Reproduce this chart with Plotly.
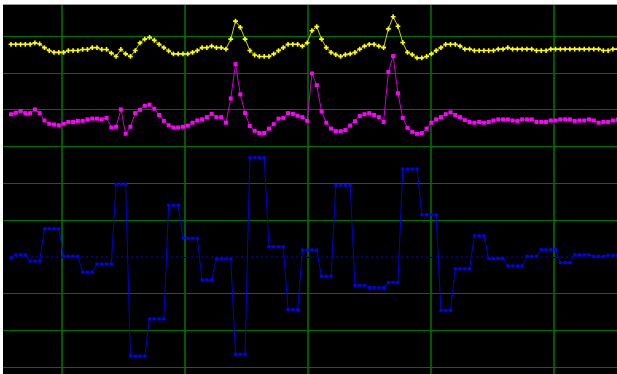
import plotly.graph_objects as go

# ---- data (sample index and signal levels) ----
n_samples = 128
sample_index = list(range(n_samples))

yellow_values = (
    [57.8] * 5 + [58.2, 57.9, 56.9, 56.1] + [55.6] * 3 + [56.1] * 3 + [56.4] * 2 + [56.9] * 2 + [56.4] * 2
    + [55.4, 54.5, 56.4, 55.2, 54.5, 56.1, 58.2, 59.2, 59.7, 58.9, 57.8, 56.9, 56.0]
    + [55.2] * 4 + [55.6, 56.1] + [56.9] * 2 + [57.3] + [56.9] * 2
    + [56.5, 59.2, 64.1, 62.4, 59.2, 56.1, 54.9] + [54.5] * 3 + [55.2, 56.1, 56.9] + [57.8] * 3
    + [57.3, 58.2, 61.5, 62.6, 59.2, 56.9, 55.6, 55.0, 54.5, 55.0, 55.2, 55.6, 56.5, 57.3]
    + [57.8] * 2 + [57.3, 56.9, 62.0, 65.3, 62.7, 58.3, 55.6, 55.0] + [54.1] * 2
    + [54.5, 55.2, 56.1, 56.9] + [57.8] * 3 + [57.3] + [56.5] * 2 + [56.1] * 5 + [56.5] * 2 + [56.9]
    + [56.5] * 5 + [56.1] * 3 + [56.5] * 11 + [56.1] * 2 + [56.5] * 2
)

magenta_values = [
    38.8, 39.2, 39.7, 39.1, 39.1, 40.1, 39.1, 37.1, 36.2, 36.0,
    35.8, 36.2, 36.7, 36.7, 37.0, 37.0, 37.4, 37.6, 37.6, 37.4,
    37.8, 35.2, 35.4, 40.1, 33.5, 35.4, 39.1, 40.0, 41.1, 41.4,
    40.3, 38.6, 37.0, 35.8, 35.2, 35.2, 35.4, 35.7, 36.5, 37.1,
    37.4, 38.0, 38.9, 38.0, 38.0, 36.5, 43.1, 52.4, 44.2, 39.1,
    35.6, 34.3, 33.7, 33.7, 34.9, 36.1, 37.6, 37.8, 39.1, 38.9,
    38.4, 38.0, 37.0, 49.9, 46.7, 39.6, 36.5, 34.9, 34.2, 34.2,
    34.5, 35.7, 36.9, 38.3, 38.8, 39.1, 38.6, 38.0, 36.7, 50.3,
    54.6, 44.5, 37.8, 35.1, 34.0, 33.5, 33.7, 34.9, 36.5, 37.4,
    38.0, 38.8, 39.3, 38.6, 38.0, 37.2, 36.7, 36.5, 36.7, 36.5,
    36.7, 37.1, 37.4, 37.4, 37.4, 37.1, 37.0, 37.4, 37.4, 37.4,
    36.7, 36.7, 36.7, 37.1, 37.1, 37.4, 37.4, 37.4, 37.0, 37.1,
    37.1, 37.4, 37.1, 36.5, 36.7, 36.7, 37.1, 37.4,
]

blue_values = (
    [-0.2] + [0.6] * 3 + [-1.1] * 3 + [7.7] * 4 + [0.2] * 4 + [-4.1] * 3 + [-1.9] * 4
    + [19.8] * 3 + [-26.9] * 4 + [-16.8] * 4 + [14.1] * 3 + [5.1] * 4 + [-6.2] * 3
    + [-0.5] * 4 + [-26.4] * 3 + [27.0] * 4 + [2.8] * 4 + [-14.3] * 3 + [1.9] * 4
    + [-5.2] * 3 + [19.5] * 4 + [-7.7] * 3 + [-8.3] * 4 + [-6.9] * 3 + [23.9] * 4
    + [11.5] * 4 + [-14.5] * 3 + [-3.2] * 4 + [5.8] * 3 + [-0.4] * 4 + [-2.4] * 4
    + [0.2] * 3 + [2.0] * 4 + [-1.5] * 3 + [0.6] * 4 + [0.2] * 3 + [0.5] * 3
)

baseline_level = 0.0
baseline_values = [baseline_level] * n_samples

# ---- figure ----
fig = go.Figure()

fig.add_trace(go.Scatter(
    x=sample_index, y=baseline_values, mode="lines",
    line=dict(color="#0000ff", width=1, dash="2px,3px"),
    hoverinfo="skip", showlegend=False,
))
fig.add_trace(go.Scatter(
    x=sample_index, y=blue_values, mode="lines+markers",
    line=dict(color="#0000d8", width=1),
    marker=dict(symbol="square", size=3, color="#0000ff", line=dict(width=0)),
    showlegend=False,
))
fig.add_trace(go.Scatter(
    x=sample_index, y=magenta_values, mode="lines+markers",
    line=dict(color="#c800c8", width=1),
    marker=dict(symbol="square", size=4, color="#ff00ff", line=dict(width=0)),
    showlegend=False,
))
fig.add_trace(go.Scatter(
    x=sample_index, y=yellow_values, mode="lines+markers",
    line=dict(color="#d0d000", width=1),
    marker=dict(symbol="cross", size=4, color="#ffff00", line=dict(width=0)),
    showlegend=False,
))

fig.update_layout(
    width=617, height=374,
    margin=dict(l=3, r=0, t=5, b=0),
    paper_bgcolor="white",
    plot_bgcolor="black",
    showlegend=False,
    xaxis=dict(
        range=[-1.675, 126.86],
        tick0=10.74, dtick=25.72,
        showgrid=True, gridcolor="#005800", gridwidth=2,
        zeroline=False, showticklabels=False, ticks="",
        side="top", showline=True, linecolor="#999999", linewidth=1,
        fixedrange=True,
    ),
    yaxis=dict(
        range=[-31.79, 68.48],
        tick0=0, dtick=10,
        showgrid=True, gridcolor="#007000", gridwidth=1,
        zeroline=True, zerolinecolor="black", zerolinewidth=1,
        showticklabels=False, ticks="", showline=False,
        fixedrange=True,
    ),
)

fig.write_html(
    "out.html",
    config={"displayModeBar": False},
    post_script="document.body.style.margin='0px';document.body.style.overflow='hidden';",
)
